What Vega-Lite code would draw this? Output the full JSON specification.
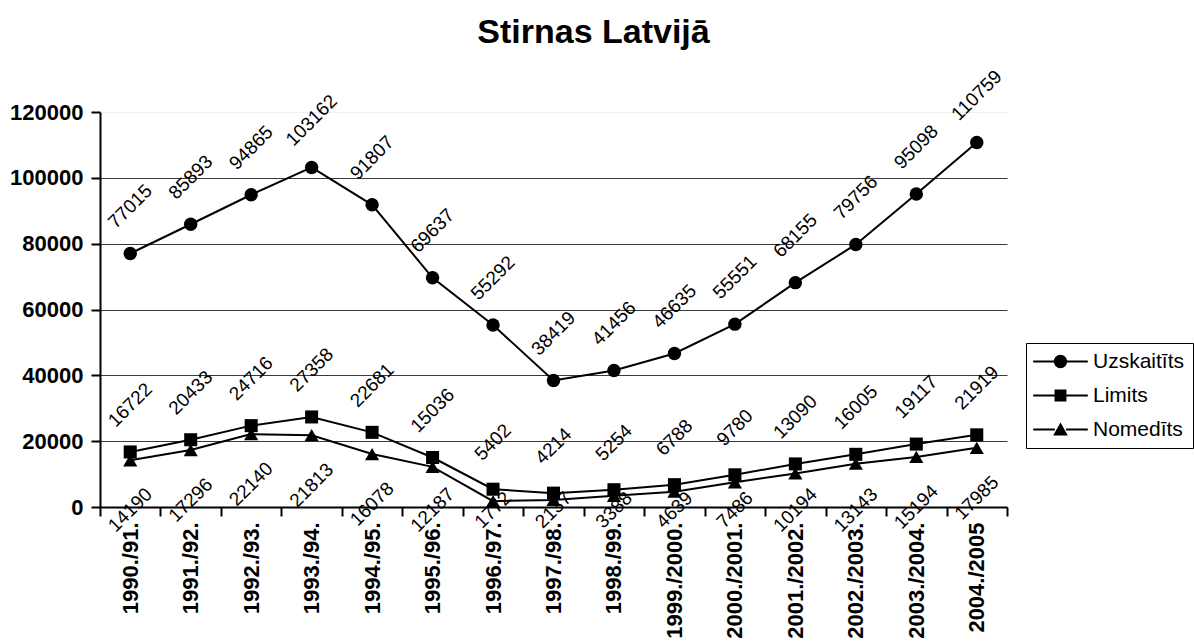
{
  "$schema": "https://vega.github.io/schema/vega-lite/v6.json",
  "autosize": {"type": "none"},
  "width": 907,
  "height": 395,
  "padding": {"left": 100, "top": 112, "right": 187, "bottom": 136},
  "background": "white",
  "title": {
    "text": "Stirnas Latvijā",
    "fontSize": 34,
    "fontWeight": "bold",
    "font": "Liberation Sans",
    "color": "black",
    "anchor": "middle",
    "dx": 40,
    "offset": 17
  },
  "config": {
    "font": "Liberation Sans",
    "view": {"stroke": null},
    "axis": {"labelFont": "Liberation Sans", "labelColor": "black"},
    "legend": {"labelFont": "Liberation Sans"}
  },
  "data": {
    "values": [
      {"period": "1990./91.", "series": "Uzskaitīts", "value": 77015},
      {"period": "1991./92.", "series": "Uzskaitīts", "value": 85893},
      {"period": "1992./93.", "series": "Uzskaitīts", "value": 94865},
      {"period": "1993./94.", "series": "Uzskaitīts", "value": 103162},
      {"period": "1994./95.", "series": "Uzskaitīts", "value": 91807},
      {"period": "1995./96.", "series": "Uzskaitīts", "value": 69637},
      {"period": "1996./97.", "series": "Uzskaitīts", "value": 55292},
      {"period": "1997./98.", "series": "Uzskaitīts", "value": 38419},
      {"period": "1998./99.", "series": "Uzskaitīts", "value": 41456},
      {"period": "1999./2000.", "series": "Uzskaitīts", "value": 46635},
      {"period": "2000./2001.", "series": "Uzskaitīts", "value": 55551},
      {"period": "2001./2002.", "series": "Uzskaitīts", "value": 68155},
      {"period": "2002./2003.", "series": "Uzskaitīts", "value": 79756},
      {"period": "2003./2004.", "series": "Uzskaitīts", "value": 95098},
      {"period": "2004./2005", "series": "Uzskaitīts", "value": 110759},
      {"period": "1990./91.", "series": "Limits", "value": 16722},
      {"period": "1991./92.", "series": "Limits", "value": 20433},
      {"period": "1992./93.", "series": "Limits", "value": 24716},
      {"period": "1993./94.", "series": "Limits", "value": 27358},
      {"period": "1994./95.", "series": "Limits", "value": 22681},
      {"period": "1995./96.", "series": "Limits", "value": 15036},
      {"period": "1996./97.", "series": "Limits", "value": 5402},
      {"period": "1997./98.", "series": "Limits", "value": 4214},
      {"period": "1998./99.", "series": "Limits", "value": 5254},
      {"period": "1999./2000.", "series": "Limits", "value": 6788},
      {"period": "2000./2001.", "series": "Limits", "value": 9780},
      {"period": "2001./2002.", "series": "Limits", "value": 13090},
      {"period": "2002./2003.", "series": "Limits", "value": 16005},
      {"period": "2003./2004.", "series": "Limits", "value": 19117},
      {"period": "2004./2005", "series": "Limits", "value": 21919},
      {"period": "1990./91.", "series": "Nomedīts", "value": 14190},
      {"period": "1991./92.", "series": "Nomedīts", "value": 17296},
      {"period": "1992./93.", "series": "Nomedīts", "value": 22140},
      {"period": "1993./94.", "series": "Nomedīts", "value": 21813},
      {"period": "1994./95.", "series": "Nomedīts", "value": 16078},
      {"period": "1995./96.", "series": "Nomedīts", "value": 12187},
      {"period": "1996./97.", "series": "Nomedīts", "value": 1772},
      {"period": "1997./98.", "series": "Nomedīts", "value": 2137},
      {"period": "1998./99.", "series": "Nomedīts", "value": 3388},
      {"period": "1999./2000.", "series": "Nomedīts", "value": 4639},
      {"period": "2000./2001.", "series": "Nomedīts", "value": 7486},
      {"period": "2001./2002.", "series": "Nomedīts", "value": 10194},
      {"period": "2002./2003.", "series": "Nomedīts", "value": 13143},
      {"period": "2003./2004.", "series": "Nomedīts", "value": 15194},
      {"period": "2004./2005", "series": "Nomedīts", "value": 17985}
    ]
  },
  "encoding": {
    "x": {
      "field": "period",
      "type": "ordinal",
      "sort": null,
      "bandPosition": 0.5,
      "scale": {"type": "band", "paddingInner": 0, "paddingOuter": 0},
      "axis": {
        "title": null,
        "labelAngle": -90,
        "labelFontSize": 22,
        "labelFontWeight": "bold",
        "labelPadding": 6,
        "tickBand": "extent",
        "tickSize": 9,
        "tickWidth": 2,
        "tickColor": "black",
        "domainColor": "black",
        "domainWidth": 2,
        "grid": false
      }
    }
  },
  "resolve": {
    "scale": {"y": "independent"}
  },
  "layer": [
    {
      "mark": {"type": "line", "color": "black", "strokeWidth": 2},
      "encoding": {
        "y": {
          "field": "value",
          "type": "quantitative",
          "scale": {"domain": [0, 120000], "nice": false},
          "axis": {
            "title": null,
            "values": [0, 20000, 40000, 60000, 80000, 100000, 120000],
            "format": "d",
            "labelFontSize": 22,
            "labelFontWeight": "bold",
            "labelPadding": 8,
            "tickSize": 9,
            "tickWidth": 2,
            "tickColor": "black",
            "domainColor": "black",
            "domainWidth": 2,
            "grid": true,
            "gridColor": "#3a3a3a",
            "gridWidth": 1,
            "gridOpacity": {"condition": {"test": "datum.value == 120000", "value": 0.08}, "value": 1}
          }
        },
        "detail": {"field": "series"}
      }
    },
    {
      "transform": [{"filter": "datum.series == 'Uzskaitīts'"}],
      "mark": {"type": "point", "filled": true, "color": "black", "opacity": 1, "size": 180, "shape": "circle"},
      "encoding": {
        "y": {"field": "value", "type": "quantitative", "scale": {"domain": [0, 120000], "nice": false}, "axis": null}
      }
    },
    {
      "transform": [{"filter": "datum.series == 'Limits'"}],
      "mark": {"type": "point", "filled": true, "color": "black", "opacity": 1, "size": 170, "shape": "square"},
      "encoding": {
        "y": {"field": "value", "type": "quantitative", "scale": {"domain": [0, 120000], "nice": false}, "axis": null}
      }
    },
    {
      "transform": [{"filter": "datum.series == 'Nomedīts'"}],
      "mark": {"type": "point", "filled": true, "color": "black", "opacity": 1, "size": 200, "shape": "triangle-up"},
      "encoding": {
        "y": {"field": "value", "type": "quantitative", "scale": {"domain": [0, 120000], "nice": false}, "axis": null}
      }
    },
    {
      "transform": [{"filter": "datum.series != 'Nomedīts'"}],
      "mark": {"type": "text", "color": "black", "fontSize": 19, "angle": -45, "align": "center", "baseline": "middle", "yOffset": -47},
      "encoding": {
        "y": {"field": "value", "type": "quantitative", "scale": {"domain": [0, 120000], "nice": false}, "axis": null},
        "text": {"field": "value", "type": "quantitative", "format": "d"}
      }
    },
    {
      "transform": [{"filter": "datum.series == 'Nomedīts'"}],
      "mark": {"type": "text", "color": "black", "fontSize": 19, "angle": -45, "align": "center", "baseline": "middle", "yOffset": 3},
      "encoding": {
        "y": {"field": "value", "type": "quantitative", "scale": {"domain": [14300, 134300], "nice": false, "clamp": true}, "axis": null},
        "text": {"field": "value", "type": "quantitative", "format": "d"}
      }
    },
    {
      "mark": {"type": "point", "filled": true, "color": "black", "opacity": 0},
      "encoding": {
        "y": {"field": "value", "type": "quantitative", "scale": {"domain": [0, 120000], "nice": false}, "axis": null},
        "shape": {
          "field": "series",
          "type": "nominal",
          "scale": {
            "domain": ["Uzskaitīts", "Limits", "Nomedīts"],
            "range": [
              "M-3.9,-0.15H-0.8V0.15H-3.9Z M0.8,-0.15H3.9V0.15H0.8Z M-0.95,0A0.95,0.95,0,1,1,0.95,0A0.95,0.95,0,1,1,-0.95,0Z",
              "M-3.9,-0.15H-0.8V0.15H-3.9Z M0.8,-0.15H3.9V0.15H0.8Z M-0.85,-0.85H0.85V0.85H-0.85Z",
              "M-3.9,-0.15H-0.8V0.15H-3.9Z M0.8,-0.15H3.9V0.15H0.8Z M0,-1L1.05,0.85H-1.05Z"
            ]
          },
          "legend": {
            "title": null,
            "orient": "none",
            "legendX": 926,
            "legendY": 231,
            "padding": 8,
            "strokeColor": "black",
            "fillColor": "white",
            "symbolSize": 196,
            "symbolOffset": 16,
            "symbolOpacity": 1,
            "symbolFillColor": "black",
            "labelOffset": 22,
            "labelFontSize": 21,
            "labelColor": "black",
            "rowPadding": 12,
            "labelLimit": 300
          }
        }
      }
    }
  ]
}
